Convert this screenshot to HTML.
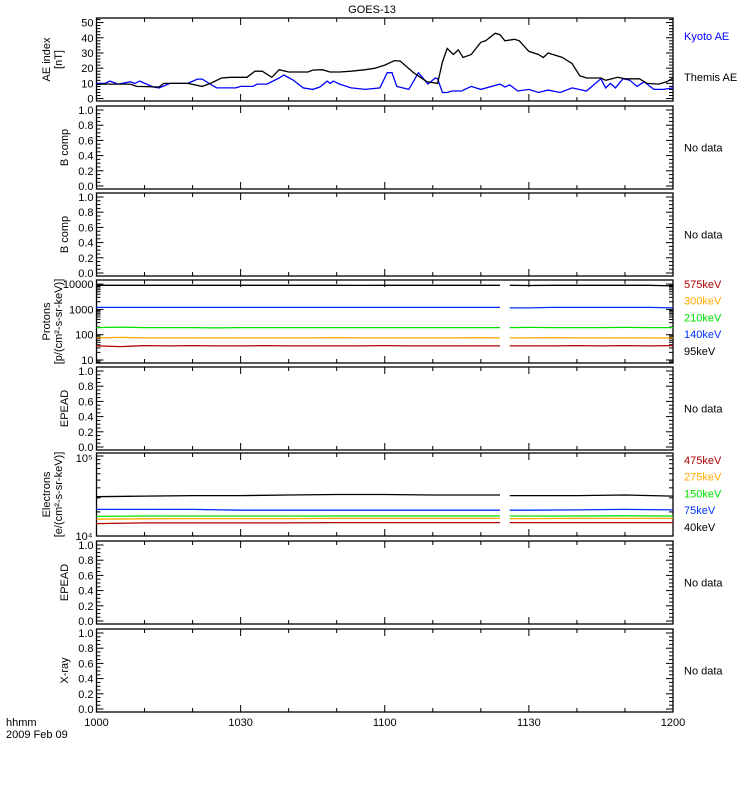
<!DOCTYPE html>
<html><head><meta charset="utf-8"><style>
body{margin:0;background:#fff;}
svg{display:block;font-family:"Liberation Sans",sans-serif;}
text{font-size:11px;}
</style></head><body>
<svg id="c" width="750" height="800" xmlns="http://www.w3.org/2000/svg"></svg>
<script>
// ---- data ----
const aeThemisT = [0,2,7,8.4,13,14,16,19,22,23.7,26,28,31.3,33,34.5,36.5,38,40,44,45,47,48.6,50.6,53,56,58,60,62,63.2,66,68.8,71,72,73,74.3,75.3,76.3,78,80,81,83,84,85,87,88,90,92,93,94,97,99,100.6,102,105,106,108.5,110,113,114.6,117,118.7,120];
const aeThemisV = [9.3,9.5,9.5,8,7.6,10,10,10,8,10,13.5,14,14,18,18,14,19,17.5,17.5,18.7,19,17.5,17.5,18,19,20,22,25,24.7,17,11,10,24,33,29,32,27,29,37,38,43,42,38,39,38,31,29,27,30,27,23,15,13.5,13.5,12,14,13,13,10,9.5,11,13.5];
const aeKyotoT = [0,1.8,2.8,4.5,7,8,9,11.8,13,15.3,19,21,22,25,29,30,32.6,33.4,35.5,38,39,41,43,45,46.5,48,48.6,49.3,50.6,53,56,59,60.5,61.5,62.5,63,65,67,69,70.5,71,72,73,74,76,78,80,84,85,86,87.7,90,92,94,96.5,99,102,105,106,107,108,109.6,111,112.5,114,116,118,120];
const aeKyotoV = [10,10,11.5,9.5,11,10,11.5,7.6,7,10,10,12.8,12.8,7,7,8,8,9.5,9.5,13.5,15.5,12,7,6,7.6,11.5,10,11.5,9.5,7,6,7,17,17,8,7.6,6,17,9.5,13.5,13,4,4,5,5,8,6,9.5,7.6,9,5,6,4,5.6,4,7,5,13,7,10,7,13,12,8,11,6,6,7];
const pTimes = [0,5,10,15,20,25,30,35,40,45,50,55,60,65,70,75,80,84,null,86,90,95,100,105,110,115,120];
const p95  = [9000,9000,9000,9000,9000,9000,9000,9000,9000,9000,9000,8900,9000,9000,9000,9000,9000,9000,null,9000,8800,9000,9000,9000,9000,9000,8500];
const p140 = [1200,1200,1200,1200,1200,1200,1200,1200,1200,1200,1200,1200,1200,1200,1200,1200,1200,1200,null,1150,1150,1200,1200,1200,1200,1200,1150];
const p210 = [190,200,190,190,190,185,190,190,190,190,190,190,190,190,190,190,190,190,null,190,195,190,190,190,195,190,190];
const p300 = [75,78,75,75,75,75,75,75,75,75,77,75,75,75,75,75,76,75,null,75,75,77,75,75,75,75,74];
const p575 = [36,34,37,36,37,36,36,37,36,36,36,36,37,36,36,36,36,36,null,36,36,36,37,36,37,36,37];
const eTimes = [0,10,20,30,40,50,60,70,80,84,null,86,90,100,110,120];
const e40  = [31000,31500,32000,32000,32500,33000,33000,32500,32500,32500,null,32000,32000,32000,32500,31500];
const e75  = [21500,21500,21500,21000,21000,21000,21000,21000,21000,21000,null,21000,21000,21200,21500,21200];
const e150 = [17600,17800,17800,17800,17800,17800,17800,17800,17800,17800,null,17800,17800,17800,17900,17800];
const e275 = [16200,16400,16500,16500,16500,16600,16600,16600,16600,16600,null,16500,16500,16600,16600,16600];
const e475 = [14300,14600,14600,14600,14600,14700,14700,14700,14700,14700,null,14700,14700,14700,14700,14700];
const xTickLabels = ["1000","1030","1100","1130","1200"];
const aeTickLabels = ["0","10","20","30","40","50"];
const unitTickLabels = ["0.0","0.2","0.4","0.6","0.8","1.0"];

// ---- layout ----
const svg = document.getElementById('c');
const NS = "http://www.w3.org/2000/svg";
const X0 = 96.5, X1 = 673;
const tops = [18,106,193,280,367,453,541,629];
const H = 83;
function xs(t){ return X0 + (t/120)*(X1-X0); }
function mk(tag, attrs, parent){
  const e = document.createElementNS(NS, tag);
  for (const k in attrs) e.setAttribute(k, attrs[k]);
  (parent||svg).appendChild(e); return e;
}
function txt(x,y,s,opts,name){
  const e = mk('text', Object.assign({x:x,y:y,fill:'#000'}, opts||{}));
  e.textContent = s;
  
  
  return e;
}
function frame(i, name){
  const g = mk('g', {});
  
  
  mk('rect', {x:X0,y:tops[i],width:X1-X0,height:H,fill:'none',stroke:'#000','stroke-width':1.3}, g);
  for (let m=10;m<120;m+=10){
    const x = xs(m), len = (m%30===0)?7:4;
    mk('line',{x1:x,x2:x,y1:tops[i]+H,y2:tops[i]+H-len,stroke:'#000'},g);
    mk('line',{x1:x,x2:x,y1:tops[i],y2:tops[i]+len,stroke:'#000'},g);
  }
  return g;
}
function ytick(g, y, len){
  mk('line',{x1:X0,x2:X0+len,y1:y,y2:y,stroke:'#000'},g);
  mk('line',{x1:X1,x2:X1-len,y1:y,y2:y,stroke:'#000'},g);
}
function ylabel(i, lines, name){
  const cy = tops[i]+H/2;
  const e = mk('text',{transform:`translate(${lines.length>1?50:68},${cy}) rotate(-90)`,'text-anchor':'middle',fill:'#000'});
  
  
  lines.forEach((l,k)=>{ const s = mk('tspan',{x:0,dy:k?12:0},e); s.textContent = l; });
}
function path(ts, vs, ymap, color, name){
  let d = '', pen = false;
  for (let k=0;k<ts.length;k++){
    if (ts[k]===null || vs[k]===null){ pen=false; continue; }
    d += (pen?'L':'M') + xs(ts[k]).toFixed(1) + ',' + ymap(vs[k]).toFixed(1);
    pen = true;
  }
  const p = mk('path',{d:d,fill:'none',stroke:color,'stroke-width':1.3});
  
  
}

// title
txt(372,13,"GOES-13",{'text-anchor':'middle','font-size':'12'},'chart-title');

// panel 1: AE
{
  const g = frame(0,'ae-index-panel');
  const y = v => tops[0]+H - (v+1.6)/(54.6)*H;
  for (let v=0; v<=52; v+=2) ytick(g, y(v), v%10===0?7:4);
  aeTickLabels.forEach(l=>txt(X0-3, y(+l)+4, l, {'text-anchor':'end','font-size':'12'}, 'ae-tick-'+l));
  ylabel(0,["AE index","[nT]"],'ae-y-axis-title');
  path(aeKyotoT, aeKyotoV, y, '#0000ff', 'kyoto-ae-line');
  path(aeThemisT, aeThemisV, y, '#000', 'themis-ae-line');
  txt(684,40,"Kyoto AE",{fill:'#0000ff'},'legend-kyoto-ae');
  txt(684,81,"Themis AE",{},'legend-themis-ae');
}
// unit panels
function unitPanel(i, label, name){
  const g = frame(i, name+'-panel');
  const y = v => tops[i]+H-3 - v*(H-7);
  for (let k=0;k<=20;k++) ytick(g, y(k*0.05), k%4===0?7:4);
  unitTickLabels.forEach(l=>txt(X0-3, y(+l)+4, l, {'text-anchor':'end','font-size':'12'}, name+'-tick-'+l));
  ylabel(i,[label],name+'-y-axis-title');
  txt(684, tops[i]+H/2+4, "No data", {}, name+'-no-data');
}
unitPanel(1,"B comp","b-comp-1");
unitPanel(2,"B comp","b-comp-2");
unitPanel(4,"EPEAD","epead-1");
unitPanel(6,"EPEAD","epead-2");
unitPanel(7,"X-ray","x-ray");

// protons
{
  const i=3, g = frame(i,'protons-panel');
  const y = v => 360 - (Math.log10(v)-1)*25.3;
  for (let d=0; d<=4; d++) for (let m=1;m<10;m++){
    const v = m*Math.pow(10,d), yy = y(v);
    if (yy < tops[i] || yy > tops[i]+H) continue;
    ytick(g, yy, m===1?7:4);
  }
  ["10","100","1000","10000"].forEach(l=>txt(X0-3, y(+l)+4, l, {'text-anchor':'end','font-size':'12'}, 'protons-tick-'+l));
  ylabel(i,["Protons","[p/(cm²-s-sr-keV)]"],'protons-y-axis-title');
  path(pTimes,p575,y,'#b00000','proton-575kev-line');
  path(pTimes,p300,y,'#ffaa00','proton-300kev-line');
  path(pTimes,p210,y,'#00e000','proton-210kev-line');
  path(pTimes,p140,y,'#0030ff','proton-140kev-line');
  path(pTimes,p95,y,'#000','proton-95kev-line');
  [["575keV",'#b00000'],["300keV",'#ffaa00'],["210keV",'#00e000'],["140keV",'#0030ff'],["95keV",'#000']]
    .forEach((e,k)=>txt(684, 288+k*16.7, e[0], {fill:e[1]}, 'legend-proton-'+e[0].toLowerCase()));
}
// electrons
{
  const i=5, g = frame(i,'electrons-panel');
  const y = v => 536 - (Math.log10(v)-4)*80;
  for (let m=1;m<=10;m++) ytick(g, y(m*1e4), (m===1||m===10)?7:4);
  txt(X0-4, y(1e4)+4, "10⁴", {'text-anchor':'end','font-size':'12'}, 'electrons-tick-1e4');
  txt(X0-4, y(1e5)+6, "10⁵", {'text-anchor':'end','font-size':'12'}, 'electrons-tick-1e5');
  ylabel(i,["Electrons","[e/(cm²-s-sr-keV)]"],'electrons-y-axis-title');
  path(eTimes,e475,y,'#b00000','electron-475kev-line');
  path(eTimes,e275,y,'#ffaa00','electron-275kev-line');
  path(eTimes,e150,y,'#00e000','electron-150kev-line');
  path(eTimes,e75,y,'#0030ff','electron-75kev-line');
  path(eTimes,e40,y,'#000','electron-40kev-line');
  [["475keV",'#b00000'],["275keV",'#ffaa00'],["150keV",'#00e000'],["75keV",'#0030ff'],["40keV",'#000']]
    .forEach((e,k)=>txt(684, 464+k*16.7, e[0], {fill:e[1]}, 'legend-electron-'+e[0].toLowerCase()));
}
// x axis labels
xTickLabels.forEach((l,k)=>txt(xs(k*30), 726, l, {'text-anchor':'middle','font-size':'12'}, 'x-tick-'+l));
txt(6,726,"hhmm",{},'x-axis-unit');
txt(6,738,"2009 Feb 09",{},'x-axis-date');
</script>
</body></html>
